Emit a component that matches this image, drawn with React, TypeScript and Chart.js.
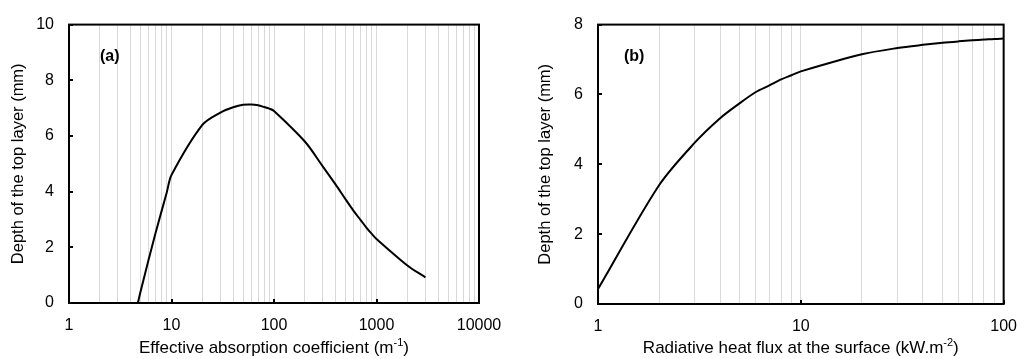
import React, { useEffect, useRef } from "react";
import { Chart, registerables } from "chart.js";

Chart.register(...registerables);

// ---- Data ----
const absorptionCoeff = [4.7, 5, 6, 7, 8, 9, 10, 20, 30, 40, 50, 60, 70, 80, 90, 100, 200, 300, 400, 500, 600, 700, 800, 900, 1000, 2000, 3000];
const depthA = [0, 0.42, 1.58, 2.52, 3.3, 3.98, 4.6, 6.4, 6.84, 7.03, 7.12, 7.13, 7.1, 7.04, 6.98, 6.9, 5.8, 4.9, 4.25, 3.72, 3.3, 2.98, 2.7, 2.48, 2.3, 1.35, 0.92];

const heatFlux = [1, 2, 3, 4, 5, 6, 7, 8, 9, 10, 20, 30, 40, 50, 60, 70, 80, 90, 100];
const depthB = [0.43, 3.4, 4.62, 5.32, 5.75, 6.07, 6.26, 6.43, 6.55, 6.66, 7.15, 7.33, 7.42, 7.48, 7.52, 7.55, 7.57, 7.59, 7.6];

const xTickLabelsA = ["1", "10", "100", "1000", "10000"];
const xTickLabelsB = ["1", "10", "100"];
const yTicksA = [0, 2, 4, 6, 8, 10];
const yTicksB = [0, 2, 4, 6, 8];

const yTitle = "Depth of the top layer (mm)";
const FONT = '"Liberation Sans", Arial, sans-serif';

const isPow10 = (v: number) => Math.abs(Math.log10(v) - Math.round(Math.log10(v))) < 1e-9;

const framePlugin = {
  id: "frame",
  afterDraw(chart: any, _args: any, opts: any) {
    const { ctx, chartArea: a, scales } = chart;
    ctx.save();
    ctx.strokeStyle = "#000";
    ctx.lineWidth = 2;
    ctx.strokeRect(a.left, a.top, a.right - a.left, a.bottom - a.top);
    // y tick marks (inside)
    scales.y.ticks.forEach((t: any) => {
      const y = Math.round(scales.y.getPixelForValue(t.value));
      ctx.beginPath();
      ctx.moveTo(a.left, y);
      ctx.lineTo(a.left + 4, y);
      ctx.stroke();
    });
    // x major tick marks (inside)
    scales.x.ticks.forEach((t: any) => {
      if (!isPow10(t.value)) return;
      const x = Math.round(scales.x.getPixelForValue(t.value));
      ctx.beginPath();
      ctx.moveTo(x, a.bottom);
      ctx.lineTo(x, a.bottom - 4);
      ctx.stroke();
    });
    // panel label
    ctx.fillStyle = "#000";
    ctx.font = `bold 16px ${FONT}`;
    ctx.textBaseline = "middle";
    ctx.textAlign = "left";
    ctx.fillText(opts.label, a.left + opts.dx, a.top + opts.dy);
    // x axis title with superscript
    const main = opts.titleMain as string;
    const sup = opts.titleSup as string;
    const end = ")";
    const big = `17px ${FONT}`;
    const small = `11px ${FONT}`;
    ctx.font = big;
    const w1 = ctx.measureText(main).width;
    const w3 = ctx.measureText(end).width;
    ctx.font = small;
    const w2 = ctx.measureText(sup).width;
    const total = w1 + w2 + w3;
    const cx = (a.left + a.right) / 2;
    let x = cx - total / 2;
    const y = opts.titleY;
    ctx.font = big;
    ctx.fillText(main, x, y);
    x += w1;
    ctx.font = small;
    ctx.fillText(sup, x, y - 5);
    x += w2;
    ctx.font = big;
    ctx.fillText(end, x, y);
    ctx.restore();
  },
};

function makeConfig(
  xs: number[],
  ys: number[],
  xMax: number,
  xLabels: string[],
  yTicks: number[],
  yAxisWidth: number,
  xAxisHeight: number,
  padRight: number,
  yTitlePad: number,
  label: string,
  labelDx: number,
  titleMain: string,
  titleSup: string
): any {
  return {
    type: "line",
    data: {
      datasets: [
        {
          data: xs.map((x, i) => ({ x, y: ys[i] })),
          borderColor: "#000",
          borderWidth: 2,
          pointRadius: 0,
          tension: 0.3,
          fill: false,
        },
      ],
    },
    options: {
      animation: false,
      responsive: false,
      devicePixelRatio: 1,
      layout: { padding: { top: 15, right: padRight, left: 0, bottom: 0 } },
      plugins: {
        legend: { display: false },
        tooltip: { enabled: false },
        frame: { label, dx: labelDx, dy: 32, titleMain, titleSup, titleY: 348 },
      },
      scales: {
        x: {
          type: "logarithmic",
          min: 1,
          max: xMax,
          afterBuildTicks: (scale: any) => {
            const ticks: any[] = [];
            for (let d = 1; d < xMax; d *= 10) {
              for (let k = 1; k < 10; k++) ticks.push({ value: d * k, major: k === 1 });
            }
            ticks.push({ value: xMax, major: true });
            scale.ticks = ticks;
          },
          afterFit: (scale: any) => {
            scale.height = xAxisHeight;
          },
          grid: { display: true, color: "#d9d9d9", lineWidth: 1, drawTicks: false },
          border: { display: false },
          ticks: {
            autoSkip: false,
            maxRotation: 0,
            padding: 13,
            color: "#000",
            font: { family: FONT, size: 16 },
            callback: (v: any) => {
              const n = Number(v);
              if (!isPow10(n)) return "";
              const s = String(Math.round(n));
              return xLabels.includes(s) ? s : "";
            },
          },
        },
        y: {
          type: "linear",
          min: yTicks[0],
          max: yTicks[yTicks.length - 1],
          afterBuildTicks: (scale: any) => {
            scale.ticks = yTicks.map((v) => ({ value: v }));
          },
          afterFit: (scale: any) => {
            scale.width = yAxisWidth;
          },
          grid: { display: false, drawTicks: false },
          border: { display: false },
          ticks: {
            padding: 15,
            color: "#000",
            font: { family: FONT, size: 16 },
            callback: (v: any) => String(v),
          },
          title: {
            display: true,
            text: yTitle,
            color: "#000",
            font: { family: FONT, size: 16.5 },
            padding: { top: yTitlePad, bottom: 0 },
          },
        },
      },
    },
    plugins: [framePlugin],
  };
}

function Panel(props: { config: any; left: number }) {
  const ref = useRef<HTMLCanvasElement | null>(null);
  useEffect(() => {
    if (!ref.current) return;
    const chart = new Chart(ref.current, props.config);
    return () => chart.destroy();
  }, []);
  return (
    <canvas
      ref={ref}
      width={515}
      height={359}
      style={{ position: "absolute", left: props.left, top: 0, width: 515, height: 359, display: "block" }}
    />
  );
}

export default function App() {
  const cfgA = makeConfig(absorptionCoeff, depthA, 10000, xTickLabelsA, yTicksA, 69, 56, 36, 8.6, "(a)", 31, "Effective absorption coefficient (m", "-1");
  const cfgB = makeConfig(heatFlux, depthB, 100, xTickLabelsB, yTicksB, 83, 55, 22, 20.6, "(b)", 26, "Radiative heat flux at the surface (kW.m", "-2");
  return (
    <div style={{ position: "fixed", left: 0, top: 0, width: 1030, height: 359, background: "#fff" }}>
      <Panel config={cfgA} left={0} />
      <Panel config={cfgB} left={515} />
    </div>
  );
}
